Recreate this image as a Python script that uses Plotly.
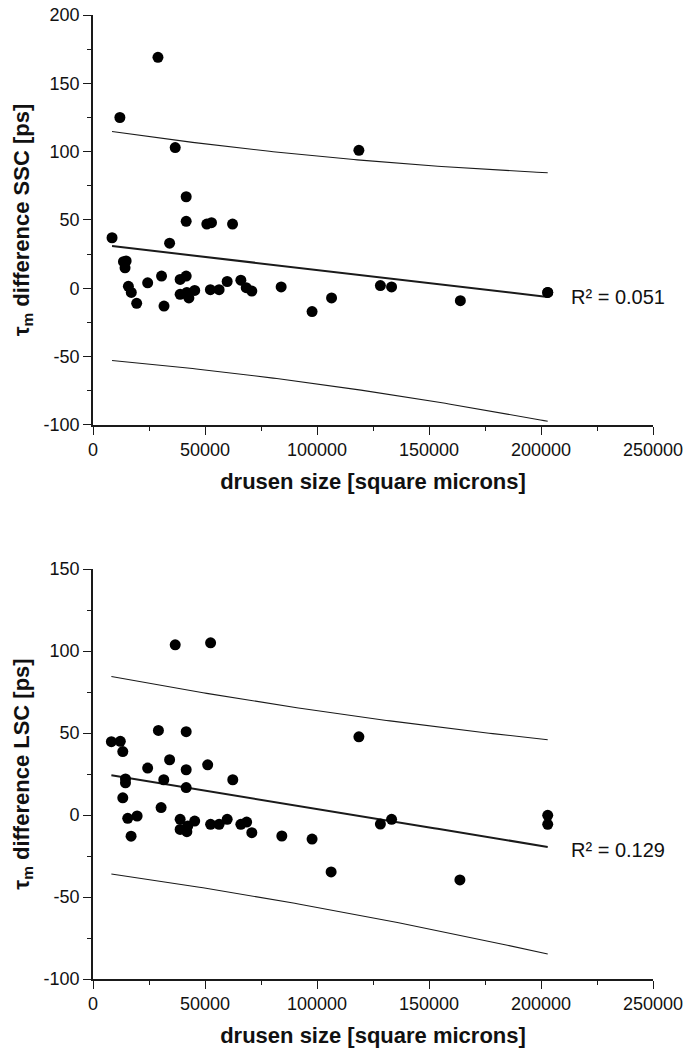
import numpy as np
import plotly.graph_objects as go

# ---- Data ----
ssc_size = [8500, 12000, 13600, 14800, 14300, 15800, 17100, 19500, 24400, 29000,
            30600, 31700, 34200, 36700, 38900, 38900, 41600, 41600, 41600, 41900,
            42800, 45400, 50800, 52900, 52400, 56300, 59900, 62300, 66000, 68400,
            70900, 84000, 97800, 106500, 118700, 128300, 133300, 164000, 203000, 203000]
ssc_diff = [37, 125, 19.5, 20, 15, 1.5, -3, -11, 4, 169,
            9, -13, 33, 103, 6.5, -4.4, 9, 67, 49, -3,
            -7, -1.5, 47, 48, -1, -1, 5, 47, 6, 0.5,
            -2, 1, -17, -7, 101, 2, 1, -9, -3, -3]

lsc_size = [8200, 12200, 13300, 14500, 14500, 13300, 15500, 19700, 17000, 24400,
            29200, 30400, 31600, 34200, 36700, 38900, 38900, 41600, 41600, 41600,
            41900, 42300, 45400, 51200, 52500, 52500, 56300, 59900, 62400, 66000,
            68600, 70900, 84300, 97800, 106300, 118700, 128300, 133300, 163800, 203000, 203000]
lsc_diff = [44.7, 44.9, 38.7, 22, 19.6, 10.5, -2, -0.6, -12.9, 28.6,
            51.6, 4.5, 21.5, 33.7, 103.8, -2.6, -8.8, 50.8, 27.6, 16.7,
            -10.2, -6.7, -3.7, 30.6, 105, -5.7, -5.7, -2.6, 21.5, -5.7,
            -4.3, -10.8, -12.8, -14.7, -34.7, 47.7, -5.5, -2.6, -39.6, -0.2, -5.7]

x_ticks = [0, 50000, 100000, 150000, 200000, 250000]
ssc_ticks = [-100, -50, 0, 50, 100, 150, 200]
lsc_ticks = [-100, -50, 0, 50, 100, 150]
r2_labels = ["R² = 0.051", "R² = 0.129"]
T95 = 2.02  # Student t, 95 %, ~38 dof


def fit_bands(xs, ys):
    x = np.asarray(xs, float)
    y = np.asarray(ys, float)
    n = len(x)
    b, a = np.polyfit(x, y, 1)
    resid = y - (a + b * x)
    s = np.sqrt(np.sum(resid ** 2) / (n - 2))
    xbar = x.mean()
    sxx = np.sum((x - xbar) ** 2)
    xg = np.linspace(x.min(), x.max(), 120)
    yh = a + b * xg
    half = T95 * s * np.sqrt(1 + 1 / n + (xg - xbar) ** 2 / sxx)
    return xg, yh, yh + half, yh - half


fig = go.Figure()
LINE = "#1a1a1a"
FONT = "Liberation Sans, Arial, sans-serif"

for xs, ys, xa, ya in [(ssc_size, ssc_diff, "x", "y"), (lsc_size, lsc_diff, "x2", "y2")]:
    xg, yh, up, lo = fit_bands(xs, ys)
    for yy, w in [(up, 1.1), (lo, 1.1), (yh, 2)]:
        fig.add_trace(go.Scatter(x=xg, y=yy, mode="lines", xaxis=xa, yaxis=ya,
                                 line=dict(color=LINE, width=w), showlegend=False,
                                 hoverinfo="skip"))
    fig.add_trace(go.Scatter(x=xs, y=ys, mode="markers", xaxis=xa, yaxis=ya,
                             marker=dict(color="black", size=11), showlegend=False))

tickfont = dict(family=FONT, size=18, color="#111")
titlefont = dict(family=FONT, size=22, color="#111")


def xax(anchor):
    return dict(anchor=anchor, domain=[0, 1], range=[0, 250000], tickvals=x_ticks,
                ticktext=[str(v) for v in x_ticks], automargin=False, ticklabeloverflow="allow",
                showline=True, linecolor=LINE, linewidth=1.6, ticks="outside",
                ticklen=8, tickwidth=1.4, tickcolor=LINE, showgrid=False, zeroline=False,
                minor=dict(dtick=25000, ticks="outside", ticklen=4, tickwidth=1.3, tickcolor=LINE, showgrid=False),
                tickfont=tickfont,
                title=dict(text="<b>drusen size [square microns]</b>", font=titlefont, standoff=14))


def yax(anchor, dom, rng, ticks, title):
    return dict(anchor=anchor, domain=dom, range=rng, tickvals=ticks,
                ticktext=[str(v) for v in ticks], automargin=False, ticklabeloverflow="allow",
                showline=True, linecolor=LINE, linewidth=1.6, ticks="outside",
                ticklen=8, tickwidth=1.4, tickcolor=LINE, showgrid=False, zeroline=False,
                minor=dict(dtick=25, tick0=0, ticks="outside", ticklen=4, tickwidth=1.3, tickcolor=LINE, showgrid=False),
                tickfont=tickfont,
                title=dict(text=title, font=titlefont, standoff=8))


fig.update_layout(
    width=699, height=1048,
    margin=dict(l=93, r=46, t=15, b=69),
    paper_bgcolor="white", plot_bgcolor="white",
    xaxis=xax("y"),
    yaxis=yax("x", [0.5747, 1.0], [-100, 200], ssc_ticks, "<b>τ<sub>m</sub> difference SSC [ps]</b>"),
    xaxis2=xax("y2"),
    yaxis2=yax("x2", [0.0, 0.4253], [-100, 150], lsc_ticks, "<b>τ<sub>m</sub> difference LSC [ps]</b>"),
    annotations=[
        dict(x=212700, y=-6.6, xref="x", yref="y", text=r2_labels[0], showarrow=False,
             xanchor="left", yanchor="middle", font=dict(family=FONT, size=20, color="#111")),
        dict(x=212300, y=-21.4, xref="x2", yref="y2", text=r2_labels[1], showarrow=False,
             xanchor="left", yanchor="middle", font=dict(family=FONT, size=20, color="#111")),
    ],
)

fig.write_html("out.html", config={"displayModeBar": False},
               post_script="document.body.style.margin='0';document.body.style.overflow='hidden';")
